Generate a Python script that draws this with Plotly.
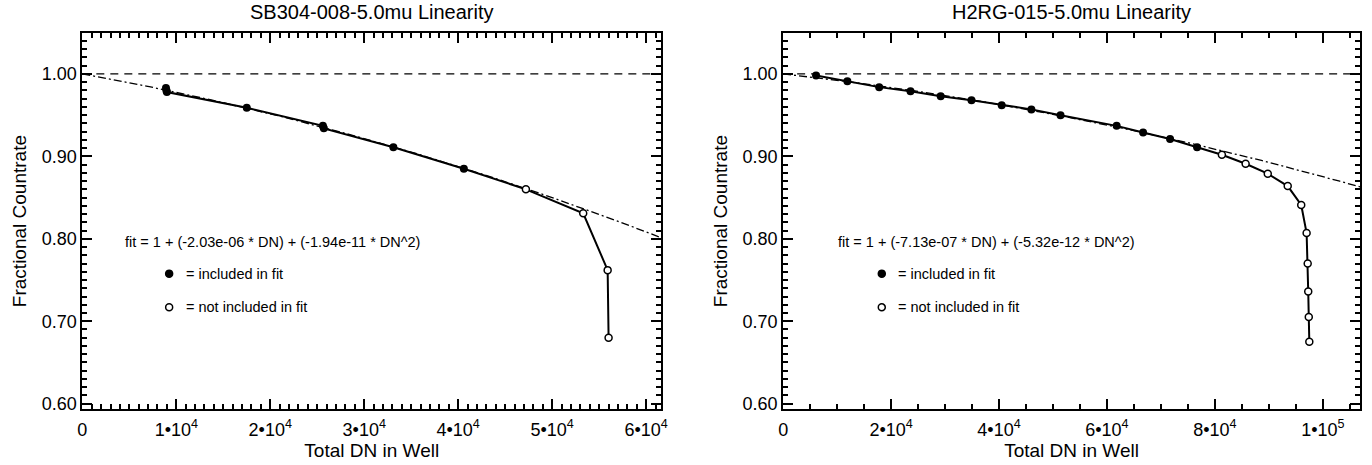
import numpy as np
import plotly.graph_objects as go

# ---- SB304-008 (left panel) ----
sb_title = "SB304-008-5.0mu Linearity"
sb_fit = (-2.03e-06, -1.94e-11)
sb_inc_x = [8900, 8950, 9000, 17500, 25600, 25700, 33100, 40600]
sb_inc_y = [0.983, 0.980, 0.978, 0.959, 0.937, 0.934, 0.911, 0.885]
sb_exc_x = [47200, 53300, 55900, 56000]
sb_exc_y = [0.860, 0.831, 0.762, 0.680]
sb_xticks = [0, 10000, 20000, 30000, 40000, 50000, 60000]
sb_xlabels = ["0", "1•10<sup>4</sup>", "2•10<sup>4</sup>", "3•10<sup>4</sup>",
              "4•10<sup>4</sup>", "5•10<sup>4</sup>", "6•10<sup>4</sup>"]
sb_xmax = 61600

# ---- H2RG-015 (right panel) ----
h2_title = "H2RG-015-5.0mu Linearity"
h2_fit = (-7.13e-07, -5.32e-12)
h2_inc_x = [6100, 11900, 17800, 23600, 29200, 34900, 40500, 46000, 51400,
            61800, 66700, 71700, 76700]
h2_inc_y = [0.998, 0.991, 0.984, 0.979, 0.973, 0.968, 0.962, 0.957, 0.950,
            0.937, 0.929, 0.921, 0.911]
h2_exc_x = [81300, 85700, 89800, 93500, 96000, 97000, 97200, 97300, 97400, 97500]
h2_exc_y = [0.902, 0.891, 0.879, 0.864, 0.841, 0.807, 0.770, 0.736, 0.705, 0.675]
h2_xticks = [0, 20000, 40000, 60000, 80000, 100000]
h2_xlabels = ["0", "2•10<sup>4</sup>", "4•10<sup>4</sup>", "6•10<sup>4</sup>",
              "8•10<sup>4</sup>", "1•10<sup>5</sup>"]
h2_xmax = 106900

y_ticks = [0.60, 0.70, 0.80, 0.90, 1.00]
y_labels = ["0.60", "0.70", "0.80", "0.90", "1.00"]
y_range = [0.593, 1.050]

FONT = "Liberation Sans, Arial, sans-serif"
NOTE_SIZE = 14.5

fig = go.Figure()

panels = [
    dict(title=sb_title, fit=sb_fit, ix=sb_inc_x, iy=sb_inc_y, ex=sb_exc_x, ey=sb_exc_y,
         ticks=sb_xticks, labels=sb_xlabels, xmax=sb_xmax, minor=1000,
         domain=[78 / 1372, 662 / 1372], xa="x", ya="y", note_x=0.07),
    dict(title=h2_title, fit=h2_fit, ix=h2_inc_x, iy=h2_inc_y, ex=h2_exc_x, ey=h2_exc_y,
         ticks=h2_xticks, labels=h2_xlabels, xmax=h2_xmax, minor=5000,
         domain=[785 / 1372, 1367 / 1372], xa="x2", ya="y2", note_x=0.091),
]

ydom = [1 - 413 / 465, 1 - 33 / 465]
annotations = []
shapes = []

for k, p in enumerate(panels):
    a, b = p["fit"]
    # horizontal reference at unity
    fig.add_trace(go.Scatter(x=[0, p["xmax"]], y=[1.0, 1.0], mode="lines",
                             line=dict(color="black", width=1.3, dash="8px,6px"),
                             xaxis=p["xa"], yaxis=p["ya"], hoverinfo="skip"))
    # quadratic fit curve
    fx = np.linspace(0, p["xmax"], 200)
    fy = 1 + a * fx + b * fx ** 2
    fig.add_trace(go.Scatter(x=fx, y=fy, mode="lines",
                             line=dict(color="black", width=1.3, dash="8px,3px,2px,3px"),
                             xaxis=p["xa"], yaxis=p["ya"], hoverinfo="skip"))
    # measured points joined in order
    allx = list(p["ix"]) + list(p["ex"])
    ally = list(p["iy"]) + list(p["ey"])
    fig.add_trace(go.Scatter(x=allx, y=ally, mode="lines",
                             line=dict(color="black", width=2),
                             xaxis=p["xa"], yaxis=p["ya"]))
    fig.add_trace(go.Scatter(x=p["ix"], y=p["iy"], mode="markers",
                             marker=dict(color="black", size=8, symbol="circle"),
                             xaxis=p["xa"], yaxis=p["ya"]))
    fig.add_trace(go.Scatter(x=p["ex"], y=p["ey"], mode="markers",
                             marker=dict(color="white", size=7, symbol="circle",
                                         line=dict(color="black", width=1.5)),
                             xaxis=p["xa"], yaxis=p["ya"]))

    xd = p["domain"]
    cx = (xd[0] + xd[1]) / 2
    annotations.append(dict(text=p["title"], x=cx, y=1 - 12 / 465, xref="paper", yref="paper",
                            showarrow=False, xanchor="center", yanchor="middle",
                            font=dict(family=FONT, size=20, color="black")))
    dref = "x domain" if k == 0 else "x2 domain"
    yref = "y domain" if k == 0 else "y2 domain"
    fit_txt = f"fit = 1 + ({a:.2e} * DN) + ({b:.2e} * DN^2)"
    fx0 = p["note_x"]
    kx = fx0 + 0.08
    annotations.append(dict(text=fit_txt, x=fx0, y=(413 - 244) / 380, xref=dref, yref=yref,
                            showarrow=False, xanchor="left", yanchor="middle",
                            font=dict(family=FONT, size=NOTE_SIZE, color="black")))
    annotations.append(dict(text="= included in fit", x=kx + 0.025, y=(413 - 276) / 380,
                            xref=dref, yref=yref, showarrow=False, xanchor="left",
                            yanchor="middle", font=dict(family=FONT, size=NOTE_SIZE, color="black")))
    annotations.append(dict(text="= not included in fit", x=kx + 0.025, y=(413 - 310) / 380,
                            xref=dref, yref=yref, showarrow=False, xanchor="left",
                            yanchor="middle", font=dict(family=FONT, size=NOTE_SIZE, color="black")))
    # legend keys
    for yy, fill in [((413 - 276) / 380, "black"), ((413 - 310) / 380, "white")]:
        shapes.append(dict(type="circle", xref=dref, yref=yref, xsizemode="pixel",
                           ysizemode="pixel", xanchor=kx, yanchor=yy,
                           x0=-3.5, x1=3.5, y0=-3.5, y1=3.5,
                           fillcolor=fill, line=dict(color="black", width=1.5)))

axis_common = dict(showline=True, linecolor="black", linewidth=2, mirror="allticks",
                   ticks="inside", ticklen=10, tickwidth=1.8, tickcolor="black",
                   showgrid=False, zeroline=False,
                   tickfont=dict(family=FONT, size=18, color="black"))

for k, p in enumerate(panels):
    sfx = "" if k == 0 else "2"
    fig.update_layout(**{
        "xaxis" + sfx: dict(axis_common, domain=p["domain"], range=[0, p["xmax"]],
                            tickvals=p["ticks"], ticktext=p["labels"], ticklabelstandoff=3,
                            minor=dict(ticks="inside", dtick=p["minor"], tick0=0, ticklen=5,
                                       tickwidth=1.5, tickcolor="black"),
                            title=dict(text="Total DN in Well", standoff=0,
                                       font=dict(family=FONT, size=19, color="black")),
                            anchor="y" + sfx),
        "yaxis" + sfx: dict(axis_common, domain=ydom, range=y_range,
                            tickvals=y_ticks, ticktext=y_labels,
                            minor=dict(ticks="inside", dtick=0.01, tick0=0, ticklen=5,
                                       tickwidth=1.5, tickcolor="black"),
                            title=dict(text="Fractional Countrate", standoff=10,
                                       font=dict(family=FONT, size=19, color="black")),
                            anchor="x" + sfx),
    })

fig.update_layout(width=1372, height=465, margin=dict(l=0, r=0, t=0, b=0),
                  paper_bgcolor="white", plot_bgcolor="white", showlegend=False,
                  annotations=annotations, shapes=shapes)

fig.write_html("out.html")
